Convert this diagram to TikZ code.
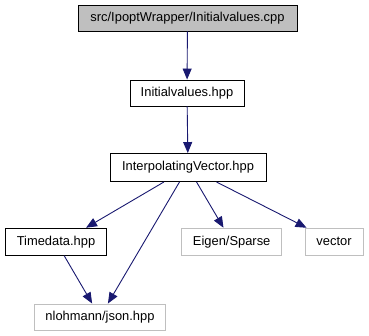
\documentclass[tikz,border=0pt]{standalone}
\usepackage{fontspec}
\setmainfont{Liberation Sans}
\usetikzlibrary{arrows.meta}
\definecolor{depblue}{HTML}{191970}
\definecolor{boxgray}{HTML}{BFBFBF}

\begin{document}
\begin{tikzpicture}[x=1pt,y=-1pt,
    file/.style={draw=black,fill=white,line width=0.9pt,minimum height=26pt,inner sep=0pt,font=\fontsize{12.9}{15}\selectfont},
    current/.style={file,fill=boxgray},
    extfile/.style={file,draw=boxgray},
    dep/.style={draw=depblue,line width=0.9pt,-{Triangle[length=11pt,width=9pt]}}]
        \useasboundingbox (0,0) rectangle (369,336);

        \node[current,minimum width=219pt] (cpp) at (187.5,18) {src/IpoptWrapper/Initialvalues.cpp};
        \node[file,minimum width=114pt] (init) at (187,93) {Initialvalues.hpp};
        \node[file,minimum width=156pt,minimum height=28pt] (interp) at (188,167.5) {InterpolatingVector.hpp};

        \node[file,minimum width=101pt,minimum height=27pt] (timedata) at (56,241.7) {Timedata.hpp};
        \node[extfile,minimum width=100pt,minimum height=27pt] (eigen) at (231.7,241.7) {Eigen/Sparse};
        \node[extfile,minimum width=58pt,minimum height=27pt] (vector) at (334,241.7) {vector};
        \node[extfile,minimum width=131pt] (json) at (100,317) {nlohmann/json.hpp};

        % includes
        \draw[dep] (cpp) -- (init);
        \draw[dep] (init) -- (interp);
        \draw[dep] ([xshift=-24pt]interp.south) -- ([xshift=30pt]timedata.north);
        \draw[dep] (interp) -- (json);
        \draw[dep] (interp) -- (eigen);
        \draw[dep] (interp) -- (vector);
        \draw[dep] (timedata) -- (json);
    \end{tikzpicture}
\end{document}
